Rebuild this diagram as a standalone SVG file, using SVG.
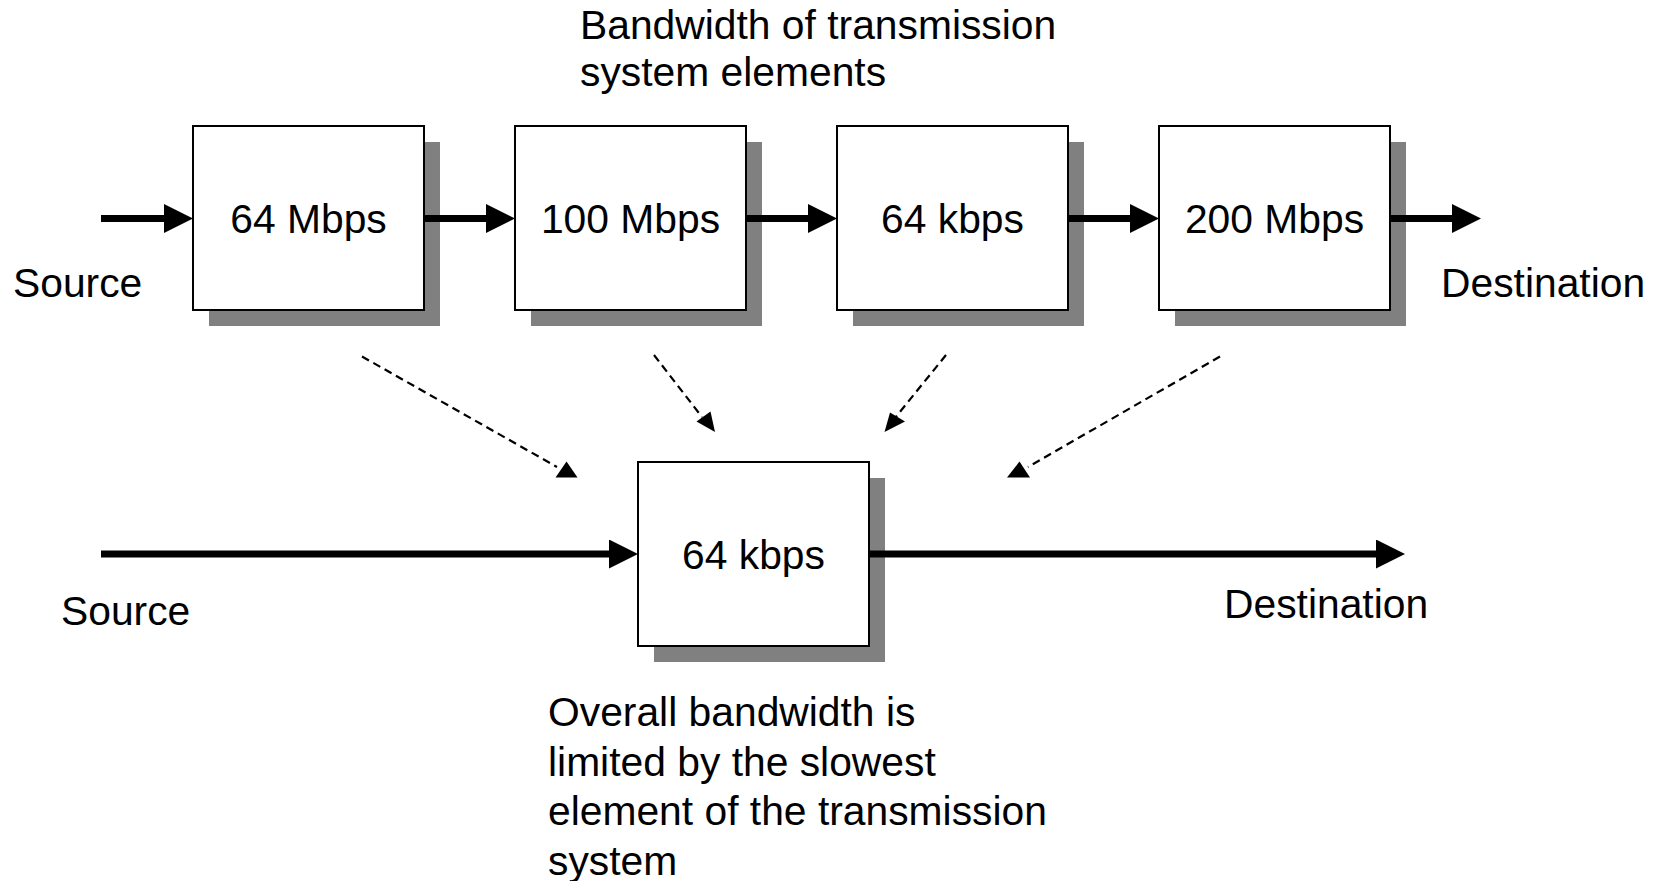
<svg xmlns="http://www.w3.org/2000/svg" width="1654" height="881" viewBox="0 0 1654 881">
  <style>
    text { font-family: "Liberation Sans", Arial, sans-serif; font-size: 40.8px; fill: #000; }
    .box { fill: #fff; stroke: #000; stroke-width: 2; }
    .shadow { fill: #808080; }
    .flow { stroke: #000; stroke-width: 7; fill: none; }
    .dash { stroke: #000; stroke-width: 2.2; stroke-dasharray: 8 5; fill: none; }
    .tip { fill: #000; }
    .mid { text-anchor: middle; }
  </style>
  <defs>
    <marker id="head" markerUnits="userSpaceOnUse" markerWidth="30" markerHeight="30" refX="0" refY="14.5" orient="auto">
      <path d="M0,0 L29,14.5 L0,29 z" fill="#000"/>
    </marker>
  </defs>
  <rect width="1654" height="881" fill="#fff"/>

  <!-- heading -->
  <g id="heading">
    <text x="580" y="39">Bandwidth of transmission</text>
    <text x="580" y="86">system elements</text>
  </g>

  <!-- end labels -->
  <g id="labels">
    <text x="13" y="297">Source</text>
    <text x="1441" y="297">Destination</text>
    <text x="61" y="625">Source</text>
    <text x="1224" y="618">Destination</text>
  </g>

  <!-- chain of elements -->
  <g id="elem-64M">
    <rect class="shadow" x="209" y="142" width="231" height="184"/>
    <rect class="box" x="193" y="126" width="231" height="184"/>
    <text class="mid" x="308.5" y="233">64 Mbps</text>
  </g>
  <g id="elem-100M">
    <rect class="shadow" x="531" y="142" width="231" height="184"/>
    <rect class="box" x="515" y="126" width="231" height="184"/>
    <text class="mid" x="630.5" y="233">100 Mbps</text>
  </g>
  <g id="elem-64k">
    <rect class="shadow" x="853" y="142" width="231" height="184"/>
    <rect class="box" x="837" y="126" width="231" height="184"/>
    <text class="mid" x="952.5" y="233">64 kbps</text>
  </g>
  <g id="elem-200M">
    <rect class="shadow" x="1175" y="142" width="231" height="184"/>
    <rect class="box" x="1159" y="126" width="231" height="184"/>
    <text class="mid" x="1274.5" y="233">200 Mbps</text>
  </g>

  <!-- resulting overall link -->
  <g id="overall">
    <rect class="shadow" x="654" y="478" width="231" height="184"/>
    <rect class="box" x="638" y="462" width="231" height="184"/>
    <text class="mid" x="753.5" y="569">64 kbps</text>
  </g>

  <!-- note -->
  <g id="note">
    <text x="548" y="726">Overall bandwidth is</text>
    <text x="548" y="775.5">limited by the slowest</text>
    <text x="548" y="825">element of the transmission</text>
    <text x="548" y="874.5">system</text>
  </g>

  <!-- connectors -->
  <g id="connectors">
    <line class="flow" x1="101" y1="218.5" x2="164" y2="218.5" marker-end="url(#head)"/>
    <line class="flow" x1="424" y1="218.5" x2="486" y2="218.5" marker-end="url(#head)"/>
    <line class="flow" x1="746" y1="218.5" x2="808" y2="218.5" marker-end="url(#head)"/>
    <line class="flow" x1="1068" y1="218.5" x2="1130" y2="218.5" marker-end="url(#head)"/>
    <line class="flow" x1="1390" y1="218.5" x2="1452" y2="218.5" marker-end="url(#head)"/>

    <line class="flow" x1="101" y1="554" x2="609" y2="554" marker-end="url(#head)"/>
    <line class="flow" x1="869" y1="554" x2="1376" y2="554" marker-end="url(#head)"/>

    <line class="dash" x1="362" y1="356.5" x2="557" y2="467"/>
    <polygon class="tip" points="566.5,461.5 577.5,477.5 555.5,477.5"/>

    <line class="dash" x1="654" y1="355" x2="702" y2="417"/>
    <polygon class="tip" points="696.5,421.5 710.5,411.5 715,432"/>

    <line class="dash" x1="946" y1="355" x2="895" y2="418"/>
    <polygon class="tip" points="884.5,432 890,412.5 905,421.5"/>

    <line class="dash" x1="1220" y1="356.5" x2="1028" y2="467"/>
    <polygon class="tip" points="1019.5,461.5 1030,477.5 1007,477.5"/>
  </g>
</svg>
